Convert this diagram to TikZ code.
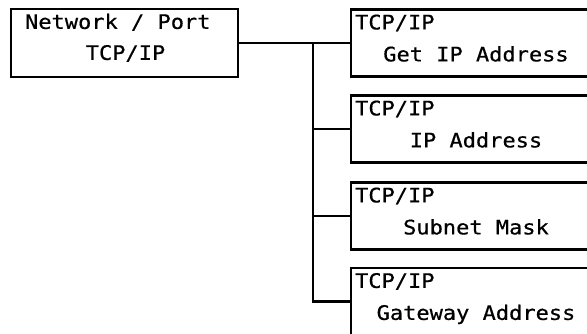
\documentclass[tikz,border=0pt]{standalone}
\usepackage{fontspec}
\newfontfamily\boxfont[FakeStretch=1.1,FakeBold=0.6]{DejaVu Sans Mono}
\usetikzlibrary{calc}
\begin{document}
\begin{tikzpicture}[x=1pt,y=1pt,
  menubox/.style={draw, line width=2.2pt, minimum width=250pt, minimum height=67pt, inner sep=0pt},
  leftbox/.style={draw, line width=2.2pt, minimum width=227pt, minimum height=68pt, inner sep=0pt},
  txt/.style={font=\boxfont\fontsize{20}{22}\selectfont, inner sep=0pt},
  link/.style={line width=2.2pt}]
\path[use as bounding box, clip] (0,0) rectangle (587,-334);
\fill[white] (0,0) rectangle (587,-334);
% boxes
\node[leftbox] (root) at (124.5,-43) {};
\node[menubox] (b1) at (476,-43) {};
\node[menubox] (b2) at (476,-129) {};
\node[menubox] (b3) at (476,-216) {};
\node[menubox] (b4) at (476,-301.5) {};
% texts
\node[txt, anchor=base west] (r1) at ($(root.north west)+(15,-21)$) {Network / Port};
\node[txt, anchor=base] (r2) at ($(root.north)+(1,-52)$) {TCP/IP};
\foreach \b/\t in {b1/Get IP Address, b2/IP Address, b3/Subnet Mask, b4/Gateway Address}{
  \node[txt, anchor=base west] (\b a) at ($(\b.north west)+(5,-21)$) {TCP/IP};
  \node[txt, anchor=base] (\b b) at ($(\b.north)+(0,-53)$) {\t};
}
% connectors
\coordinate (bus) at (313,-43);
\draw[link, line join=miter] (root.east) -- (bus) |- (b4.west);
\draw[link] (b2.west) -- (b2.west -| bus);
\draw[link] (b3.west) -- (b3.west -| bus);
\draw[link] (bus) -- (b1.west);
\end{tikzpicture}
\end{document}
